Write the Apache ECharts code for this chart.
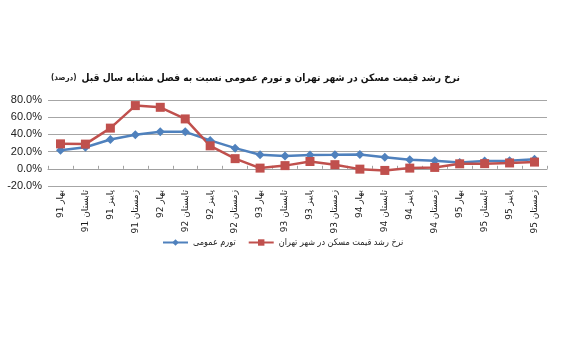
<!DOCTYPE html>
<html><head><meta charset="utf-8">
<script src="https://cdn.jsdelivr.net/npm/echarts@6/dist/echarts.min.js"></script>
<style>html,body{margin:0;padding:0;background:#fff}#c{width:574px;height:344px}</style>
</head><body><div id="c"></div>
<script>
const seasons = ['بهار','تابستان','پاییز','زمستان'];
const years = ['91','92','93','94','95'];
const categories = [];
years.forEach(y => seasons.forEach(s => categories.push(s + ' ' + y)));
const inflation = [21.5, 25.0, 34.0, 39.5, 43.0, 43.0, 33.0, 24.0, 16.3, 14.8, 16.0, 16.2, 16.5, 13.5, 10.5, 9.5, 7.4, 9.0, 9.5, 11.0];
const housing = [29.0, 28.7, 47.3, 73.5, 71.5, 58.0, 26.7, 11.8, 0.8, 3.7, 8.5, 4.8, -0.4, -1.9, 0.8, 1.6, 5.8, 6.0, 6.8, 7.8];
const yTicks = {min: -20, max: 80, interval: 20};
const nameInflation = 'تورم عمومی';
const nameHousing = 'نرخ رشد قیمت مسکن در شهر تهران';
const titleMain = 'نرخ رشد قیمت مسکن در شهر تهران و تورم عمومی نسبت به فصل مشابه سال قبل';
const titleUnit = '(درصد)';

const chart = echarts.init(document.getElementById('c'));
chart.setOption({
  animation: false,
  title: {
    text: '{s|' + titleUnit + '} {b|' + titleMain + '}',
    left: 46, top: 64,
    textStyle: {
      rich: {
        s: {fontFamily: 'DejaVu Sans Condensed', fontSize: 8, color: '#222'},
        b: {fontFamily: 'DejaVu Sans Condensed', fontSize: 10.2, fontWeight: 'bold', color: '#111'}
      }
    }
  },
  legend: {
    data: [nameInflation, nameHousing],
    left: 157, top: 233,
    itemWidth: 25, itemHeight: 8, itemGap: 12,
    textStyle: {fontFamily: 'DejaVu Sans Condensed', fontSize: 9, color: '#222'}
  },
  grid: {left: 48, right: 27, top: 100, bottom: 158, containLabel: false},
  xAxis: [{
    type: 'category', data: categories, boundaryGap: true,
    axisLine: {show: false, onZero: false},
    axisTick: {show: false},
    axisLabel: {rotate: 90, interval: 0, margin: 4, fontFamily: 'DejaVu Sans', fontSize: 9, color: '#1a1a1a'}
  }, {
    type: 'category', data: categories, boundaryGap: true, position: 'bottom',
    axisLine: {show: true, onZero: true, onZeroAxisIndex: 0, lineStyle: {color: '#a0a0a0', width: 1}},
    axisTick: {show: true, length: 3, inside: true, interval: 0, lineStyle: {color: '#a0a0a0'}},
    axisLabel: {show: false}
  }],
  yAxis: {
    type: 'value', min: yTicks.min, max: yTicks.max, interval: yTicks.interval,
    axisLine: {show: false}, axisTick: {show: false},
    axisLabel: {formatter: v => v.toFixed(1) + '%', fontFamily: 'Liberation Sans', fontSize: 11, color: '#222', margin: 6},
    splitLine: {lineStyle: {color: '#a6a6a6', width: 1}}
  },
  series: [{
    name: nameInflation, type: 'line', data: inflation, xAxisIndex: 0,
    symbol: 'diamond', symbolSize: 9,
    lineStyle: {color: '#4f81bd', width: 2.5}, itemStyle: {color: '#4f81bd'}
  }, {
    name: nameHousing, type: 'line', data: housing, xAxisIndex: 0,
    symbol: 'rect', symbolSize: 9,
    lineStyle: {color: '#c0504d', width: 2.5}, itemStyle: {color: '#c0504d'}
  }]
});
</script></body></html>
